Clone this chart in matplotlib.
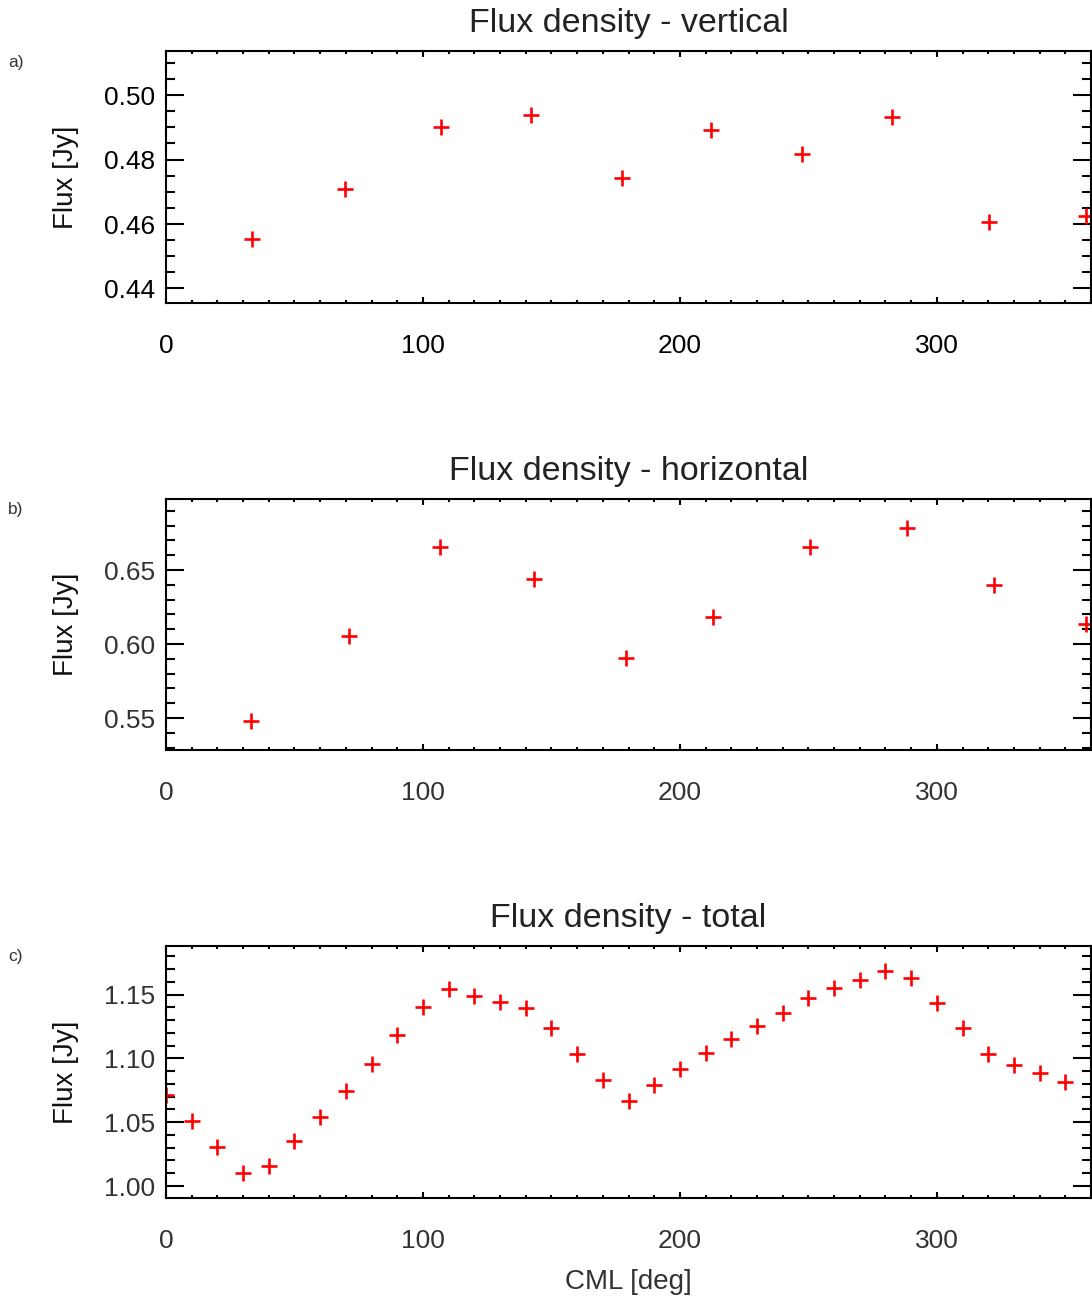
import numpy as np
import matplotlib
matplotlib.use("Agg")
import matplotlib.pyplot as plt
from matplotlib.ticker import MultipleLocator, FormatStrFormatter

plt.rcParams['font.family'] = ['Liberation Sans', 'DejaVu Sans']

# panel a) vertical
cml_vert = [33.4, 69.6, 106.9, 142.2, 177.4, 212.3, 247.5, 282.5, 320.2, 357.9]
flux_vert = [0.4554, 0.4708, 0.4900, 0.4937, 0.4742, 0.4893, 0.4816, 0.4931, 0.4605, 0.4625]

# panel b) horizontal
cml_horiz = [33.0, 71.4, 106.5, 143.2, 179.2, 212.9, 250.8, 288.5, 322.2, 358.2]
flux_horiz = [0.5478, 0.6054, 0.6653, 0.6437, 0.5903, 0.6180, 0.6655, 0.6784, 0.6399, 0.6135]

# panel c) total
cml_total = list(range(0, 360, 10))
flux_total = [1.0711, 1.0513, 1.0306, 1.0100, 1.0157, 1.0356, 1.0544, 1.0742, 1.0956, 1.1181,
              1.1406, 1.1544, 1.1492, 1.1442, 1.1393, 1.1236, 1.1032, 1.0828, 1.0666, 1.0792,
              1.0917, 1.1040, 1.1150, 1.1254, 1.1359, 1.1473, 1.1549, 1.1617, 1.1683, 1.1633,
              1.1432, 1.1234, 1.1032, 1.0951, 1.0886, 1.0818]

titles = ["Flux density - vertical", "Flux density - horizontal", "Flux density - total"]
tags = ["a)", "b)", "c)"]

W, H = 1092, 1297
fig = plt.figure(figsize=(W / 100, H / 100), dpi=100)

# pixel boxes (top, bottom) for each panel
boxes = [(51, 303), (499, 750), (946, 1198)]
ylims = [(0.4355, 0.5137), (0.5284, 0.698), (0.9906, 1.188)]
ymaj = [0.02, 0.05, 0.05]
ymin = [0.005, 0.01, 0.01]
lab_col = ['#000000', '#333333', '#333333']
series = [(cml_vert, flux_vert), (cml_horiz, flux_horiz), (cml_total, flux_total)]

left, right = 166, 1091
for i in range(3):
    top, bot = boxes[i]
    ax = fig.add_axes([left / W, 1 - bot / H, (right - left) / W, (bot - top) / H])
    x, y = series[i]
    ax.plot(x, y, linestyle='none', marker='+', color='#ff0000', markersize=11, markeredgewidth=1.9)
    ax.set_xlim(0, 360)
    ax.set_ylim(*ylims[i])
    ax.xaxis.set_major_locator(MultipleLocator(100))
    ax.xaxis.set_minor_locator(MultipleLocator(10))
    ax.yaxis.set_major_locator(MultipleLocator(ymaj[i]))
    ax.yaxis.set_minor_locator(MultipleLocator(ymin[i]))
    ax.yaxis.set_major_formatter(FormatStrFormatter('%.2f'))
    ax.tick_params(axis='both', which='both', direction='in', top=True, right=True, width=1.5,
                   labelcolor=lab_col[i], labelsize=19)
    ax.tick_params(axis='y', which='major', length=13, pad=8)
    ax.tick_params(axis='y', which='minor', length=6.5)
    ax.tick_params(axis='x', which='major', length=4.5, pad=22)
    ax.tick_params(axis='x', which='minor', length=2.2)
    for s in ax.spines.values():
        s.set_linewidth(1.5)
    ax.set_title(titles[i], fontsize=24.5, color='#222222', pad=14)
    ax.set_ylabel("Flux [Jy]", fontsize=20, color='#111111')
    ax.yaxis.set_label_coords(-0.094, 0.5)
    fig.text(8 / W, 1 - (top + 11) / H, tags[i], fontsize=12.5, color='#333333', va='center', ha='left')
    if i == 2:
        ax.set_xlabel("CML [deg]", fontsize=20, color='#333333', labelpad=12)

fig.savefig("out.png", dpi=100)
